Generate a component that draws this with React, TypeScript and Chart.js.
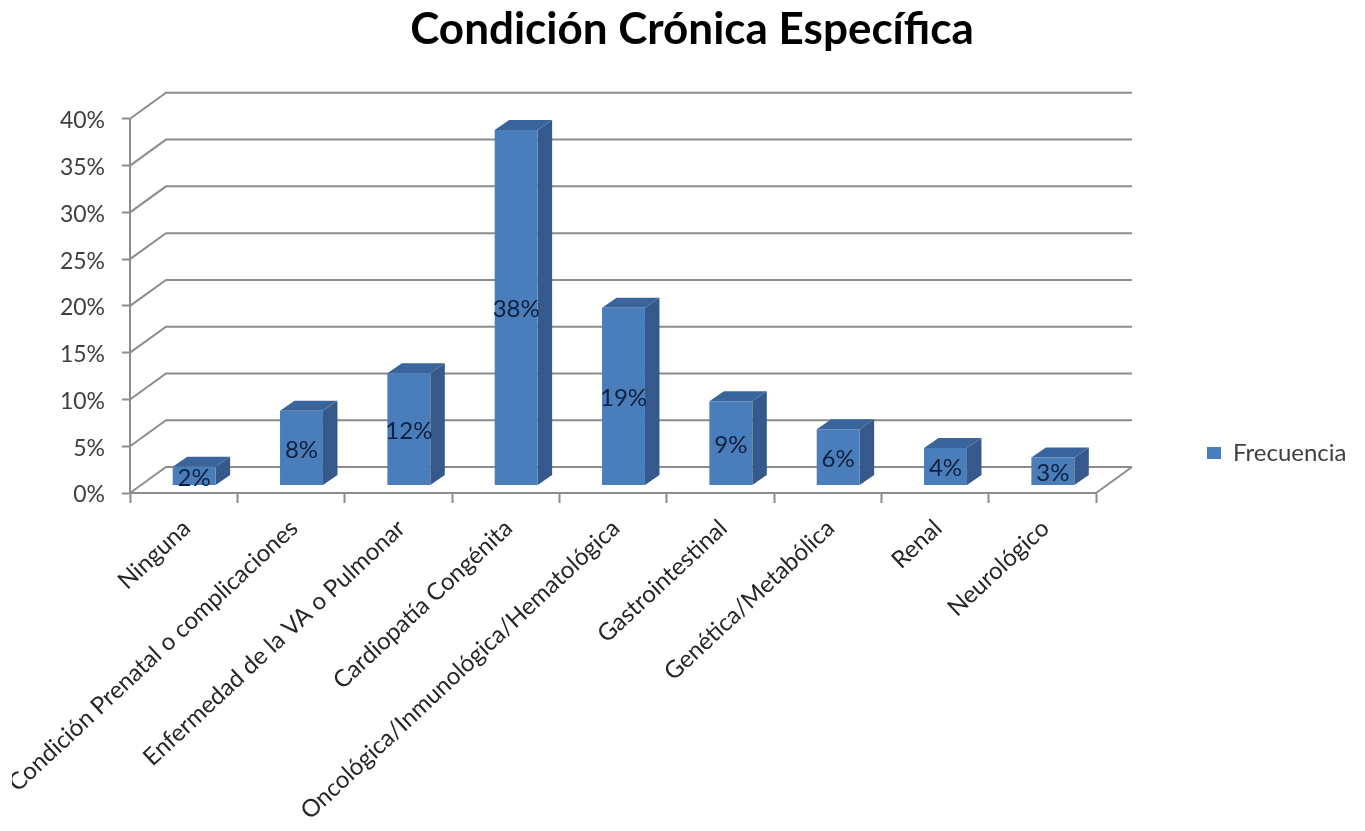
import React, { useEffect, useRef } from "react";
import { Chart, registerables } from "chart.js";

Chart.register(...registerables);

const categories = [
  "Ninguna",
  "Condición Prenatal o complicaciones",
  "Enfermedad de la VA o Pulmonar",
  "Cardiopatía Congénita",
  "Oncológica/Inmunológica/Hematológica",
  "Gastrointestinal",
  "Genética/Metabólica",
  "Renal",
  "Neurológico",
];
const frecuencia = [2, 8, 12, 38, 19, 9, 6, 4, 3];
const seriesLabel = "Frecuencia";
const chartTitle = "Condición Crónica Específica";

const FONT = "Lato, Carlito, sans-serif";
const FRONT = "#4A7EBB";
const SIDE = "#35598A";
const TOP = "#3A659C";
const GRID = "#8C8C8C";

// Perspective of the 3D box: wall depth, and how far the columns sit from the front plane.
const WALL = { dx: 36, dy: -26 };
const COLUMN = { dx: 14.5, dy: -10 };
const SHIFT = { dx: 10.5, dy: -7.5 };

const box3d = {
  id: "box3d",
  afterLayout(chart: any) {
    // Free placement of the title and the legend outside the plot box.
    const t = chart.titleBlock;
    if (t) {
      t.left = 292;
      t.right = 1092;
    }
    const l = chart.legend;
    if (l) {
      l.left = 1197;
      l.right = 1365;
      l.top = 440;
      l.bottom = 466;
    }
  },
  beforeDatasetsDraw(chart: any) {
    const { ctx, scales } = chart;
    const x = scales.x;
    const y = scales.y;
    ctx.save();
    ctx.strokeStyle = GRID;
    ctx.lineWidth = 2;
    y.ticks.forEach((tick: any) => {
      const py = y.getPixelForValue(tick.value);
      ctx.beginPath();
      ctx.moveTo(x.left, py);
      ctx.lineTo(x.left + WALL.dx, py + WALL.dy);
      ctx.lineTo(x.right + WALL.dx, py + WALL.dy);
      ctx.stroke();
    });
    const floor = y.getPixelForValue(0);
    ctx.beginPath();
    ctx.moveTo(x.right, floor);
    ctx.lineTo(x.right + WALL.dx, floor + WALL.dy);
    ctx.stroke();
    ctx.restore();

    ctx.save();
    ctx.translate(SHIFT.dx, SHIFT.dy);
    chart.getDatasetMeta(0).data.forEach((bar: any) => {
      const { x: cx, y: top, base, width } = bar.getProps(["x", "y", "base", "width"], true);
      const left = cx - width / 2;
      const right = cx + width / 2;
      ctx.fillStyle = SIDE;
      ctx.beginPath();
      ctx.moveTo(right, top);
      ctx.lineTo(right + COLUMN.dx, top + COLUMN.dy);
      ctx.lineTo(right + COLUMN.dx, base + COLUMN.dy);
      ctx.lineTo(right, base);
      ctx.closePath();
      ctx.fill();
      ctx.fillStyle = TOP;
      ctx.beginPath();
      ctx.moveTo(left, top);
      ctx.lineTo(left + COLUMN.dx, top + COLUMN.dy);
      ctx.lineTo(right + COLUMN.dx, top + COLUMN.dy);
      ctx.lineTo(right, top);
      ctx.closePath();
      ctx.fill();
    });
  },
  afterDatasetsDraw(chart: any) {
    const { ctx } = chart;
    ctx.font = `24px ${FONT}`;
    ctx.fillStyle = "#10203F";
    ctx.textAlign = "center";
    ctx.textBaseline = "middle";
    chart.getDatasetMeta(0).data.forEach((bar: any, i: number) => {
      const { x: cx, y: top, base } = bar.getProps(["x", "y", "base"], true);
      ctx.fillText(`${frecuencia[i]}%`, cx, (top + base) / 2 + 2);
    });
    ctx.restore();
  },
  afterDraw(chart: any) {
    // The longest category label runs off the chart's left margin.
    chart.ctx.clearRect(0, 740, 12, 91);
  },
};

export default function App() {
  const ref = useRef<HTMLCanvasElement>(null);

  useEffect(() => {
    document.body.style.margin = "0";
    const chart = new Chart(ref.current!, {
      type: "bar",
      plugins: [box3d],
      data: {
        labels: categories,
        datasets: [
          {
            label: seriesLabel,
            data: frecuencia,
            backgroundColor: FRONT,
            categoryPercentage: 1,
            barPercentage: 0.4,
            clip: false,
          },
        ],
      },
      options: {
        animation: false,
        responsive: false,
        layout: { padding: { left: 0, right: 269, top: 0, bottom: 0 } },
        plugins: {
          title: {
            display: true,
            text: chartTitle,
            color: "#000000",
            font: { family: FONT, size: 44, weight: "bold" },
            padding: { top: 3, bottom: 63 },
          },
          legend: {
            position: "chartArea",
            labels: {
              boxWidth: 14,
              boxHeight: 12,
              color: "#404040",
              font: { family: FONT, size: 24 },
            },
          },
          tooltip: { enabled: false },
        },
        scales: {
          x: {
            afterFit(s: any) {
              s.height = 338;
              s.paddingLeft = 0;
              s.paddingRight = 0;
            },
            grid: {
              offset: true,
              drawOnChartArea: false,
              tickLength: 10,
              tickColor: GRID,
              tickWidth: 2,
            },
            border: { color: GRID, width: 2 },
            ticks: {
              autoSkip: false,
              minRotation: 43,
              maxRotation: 43,
              padding: 11,
              labelOffset: 3,
              color: "#262626",
              font: { family: FONT, size: 24 },
            },
          },
          y: {
            min: 0,
            max: 40,
            afterFit(s: any) {
              s.width = 130;
              s.paddingTop = 0;
              s.paddingBottom = 0;
            },
            grid: {
              drawOnChartArea: false,
              tickLength: 8,
              tickColor: GRID,
              tickWidth: 2,
            },
            border: { color: GRID, width: 2 },
            ticks: {
              stepSize: 5,
              padding: 17,
              labelOffset: 2,
              color: "#404040",
              font: { family: FONT, size: 23 },
              callback: (v: any) => `${v}%`,
            },
          },
        },
      },
    } as any);
    return () => chart.destroy();
  }, []);

  return <canvas ref={ref} width={1365} height={831} style={{ display: "block" }} />;
}
